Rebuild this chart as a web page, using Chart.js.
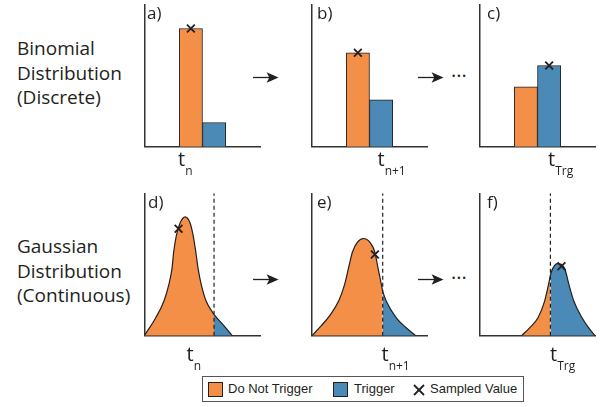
<!DOCTYPE html>
<html>
<head>
<meta charset="utf-8">
<script src="https://cdn.jsdelivr.net/npm/chart.js@4.4.1/dist/chart.umd.min.js"></script>
<style>
body { margin: 0; width: 605px; height: 407px; position: relative; background: #fff; overflow: hidden; font-family: "Open Sans", sans-serif; color: #231f20; }
canvas { position: absolute; }
.txt { position: absolute; white-space: nowrap; line-height: 1; }
.rowlabel { position: absolute; left: 17px; font-size: 19px; line-height: 24.5px; }
.letter { font-size: 17px; }
.tlab { font-size: 20px; }
.tlab span { font-size: 12px; position: relative; top: 9px; }
.dots { font-size: 20px; }
.legend { position: absolute; left: 202px; top: 376px; width: 322px; height: 26px; border: 1px solid #555; box-sizing: border-box; }
.leg { position: absolute; font-family: "Liberation Sans", Arial, sans-serif; font-size: 13px; line-height: 1; top: 382px; }
.swatch { position: absolute; top: 381.5px; width: 15px; height: 15px; border: 1px solid #231f20; box-sizing: border-box; }
svg { position: absolute; left: 0; top: 0; }
</style>
</head>
<body>

<div class="rowlabel" style="top:36px">Binomial<br>Distribution<br>(Discrete)</div>
<div class="rowlabel" style="top:234px">Gaussian<br>Distribution<br>(Continuous)</div>

<div class="legend"></div>
<div class="swatch" style="left:208px;background:#f38f46"></div>
<div class="leg" style="left:228px">Do Not Trigger</div>
<div class="swatch" style="left:333px;background:#4b89b7"></div>
<div class="leg" style="left:354px">Trigger</div>
<div class="leg" style="left:430px">Sampled Value</div>

<svg width="605" height="407">
  <g stroke="#231f20" stroke-width="1.3" fill="#231f20">
    <line x1="253" y1="77.5" x2="272" y2="77.5"/><polygon points="277,77.5 268,73.5 270,77.5 268,81.5"/>
    <line x1="418" y1="77.5" x2="437" y2="77.5"/><polygon points="442,77.5 433,73.5 435,77.5 433,81.5"/>
    <line x1="253" y1="279.5" x2="272" y2="279.5"/><polygon points="277,279.5 268,275.5 270,279.5 268,283.5"/>
    <line x1="418" y1="279.5" x2="437" y2="279.5"/><polygon points="442,279.5 433,275.5 435,279.5 433,283.5"/>
  </g>
  <g stroke="#231f20" stroke-width="1.8">
    <line x1="414" y1="385" x2="424" y2="395"/><line x1="424" y1="385" x2="414" y2="395"/>
  </g>
</svg>
<div class="txt dots" style="left:451px;top:66.2px">···</div>
<div class="txt dots" style="left:451px;top:268.2px">···</div>

<script>
// colours
const ORANGE = '#f38f46';
const BLUE = '#4b89b7';
const INK = '#231f20';

const panelLetters = ['a)', 'b)', 'c)', 'd)', 'e)', 'f)'];
const timeLabels = [['t', 'n'], ['t', 'n+1'], ['t', 'Trg']];

// binomial panels: two outcomes, probability of each
const outcomes = ['Do Not Trigger', 'Trigger'];
const outcomeX = [4, 6];
const binomA = [0.83, 0.17];
const binomB = [0.66, 0.33];
const binomC = [0.42, 0.57];
const binomSampled = [0, 0, 1];

// gaussian panels: density curve, threshold (dashed) and sampled point
const gaussDX = [0, 11.7, 20, 25, 28.3, 30, 32.7, 36.7, 41.7, 46.7, 50, 52.7, 55, 58.3, 63.3, 71.3, 80, 90];
const gaussDY = [0, 18.3, 35, 51.7, 68.3, 85, 101.7, 115, 121, 115, 101.7, 85, 68.3, 51.7, 35, 21.5, 11.7, 0];
const gaussEX = [0.7, 10, 20, 28.3, 34, 38.3, 42, 47, 53.3, 60, 65, 68.3, 71.7, 73, 76.7, 86.7, 96.7, 106.7];
const gaussEY = [0, 10, 22, 36, 52, 70, 85, 95, 99, 95, 85, 68.3, 51.7, 45, 35, 18.3, 8.3, 0];
const gaussFX = [43.3, 51.7, 60, 66.7, 70.7, 72.7, 75, 80, 87.3, 91.7, 96.7, 105, 111.7, 118.3];
const gaussFY = [0, 8.3, 18.3, 35, 51.7, 61.7, 68.3, 73.3, 68.3, 51.7, 35, 18.3, 8.3, 0];
const thresholds = [71.3, 73, 72.7];
const gaussSampled = [[35, 109], [65, 82.7], [84, 70.7]];

const PAD = 6;
const colX = [143, 310, 478];
const rowTop = [3, 192];
const W = 119, H = 145;

function makeCanvas(x0, yTop) {
    const c = document.createElement('canvas');
    c.width = W + 2 * PAD;
    c.height = H + 2 * PAD;
    c.style.left = (x0 - PAD) + 'px';
    c.style.top = (yTop - PAD) + 'px';
    document.body.appendChild(c);
    return c;
}

function axes(xMax, yMax, step) {
    const line = { display: true, color: '#333', width: 1.5 };
    return {
        x: { type: 'linear', min: 0, max: xMax, offset: false, ticks: { display: false, stepSize: step }, grid: { display: false, drawTicks: false }, border: line },
        y: { type: 'linear', min: 0, max: yMax, ticks: { display: false }, grid: { display: false, drawTicks: false }, border: line }
    };
}

const baseOptions = {
    responsive: false,
    animation: false,
    layout: { padding: PAD },
    plugins: { legend: { display: false }, tooltip: { enabled: false } }
};

function marker(x, y) {
    return {
        type: 'scatter',
        data: [{ x: x, y: y }],
        pointStyle: 'crossRot',
        pointRadius: 5.5,
        borderColor: INK,
        borderWidth: 1.8,
        backgroundColor: INK
    };
}

// top row
[binomA, binomB, binomC].forEach((probs, i) => {
    const s = binomSampled[i];
    new Chart(makeCanvas(colX[i], rowTop[0]), {
        type: 'bar',
        data: {
            datasets: [
                marker(outcomeX[s], probs[s]),
                {
                    label: 'P',
                    data: probs.map((p, k) => ({ x: outcomeX[k], y: p })),
                    backgroundColor: [ORANGE, BLUE],
                    borderColor: INK,
                    borderWidth: 1,
                    barPercentage: 1,
                    categoryPercentage: 1
                }
            ]
        },
        options: Object.assign({}, baseOptions, { scales: axes(10, 1, 2) })
    });
});

// bottom row
function part(xs, ys, from, to) {
    const pts = [];
    xs.forEach((x, k) => { if (x >= from && x <= to) pts.push({ x: x, y: ys[k] }); });
    return pts;
}

[[gaussDX, gaussDY], [gaussEX, gaussEY], [gaussFX, gaussFY]].forEach((g, i) => {
    const thr = thresholds[i];
    const curve = (pts, col) => ({
        data: pts,
        fill: 'origin',
        backgroundColor: col,
        borderColor: INK,
        borderWidth: 1.2,
        pointRadius: 0,
        cubicInterpolationMode: 'monotone'
    });
    new Chart(makeCanvas(colX[i], rowTop[1]), {
        type: 'line',
        data: {
            datasets: [
                marker(gaussSampled[i][0], gaussSampled[i][1]),
                {
                    data: [{ x: thr, y: 0 }, { x: thr, y: H }],
                    borderColor: INK,
                    borderWidth: 1.2,
                    borderDash: [4, 3],
                    pointRadius: 0,
                    fill: false
                },
                curve(part(g[0], g[1], -1, thr), ORANGE),
                curve(part(g[0], g[1], thr, 200), BLUE)
            ]
        },
        options: Object.assign({}, baseOptions, { scales: axes(W, H) })
    });
});

// text labels
function addText(cls, html, left, top) {
    const d = document.createElement('div');
    d.className = 'txt ' + cls;
    d.innerHTML = html;
    d.style.left = left + 'px';
    d.style.top = top + 'px';
    document.body.appendChild(d);
}
const letterPos = [[147, 4.4], [317, 4.4], [487, 4.4], [148, 193.4], [317, 193.4], [487, 193.4]];
panelLetters.forEach((l, i) => addText('letter', l, letterPos[i][0], letterPos[i][1]));
const tPos = [[178, 149.2], [377.5, 149.2], [548, 149.2], [186.5, 344.2], [381.5, 344.2], [550, 344.2]];
tPos.forEach((p, i) => {
    const t = timeLabels[i % 3];
    addText('tlab', t[0] + '<span>' + t[1] + '</span>', p[0], p[1]);
});
</script>
</body>
</html>
